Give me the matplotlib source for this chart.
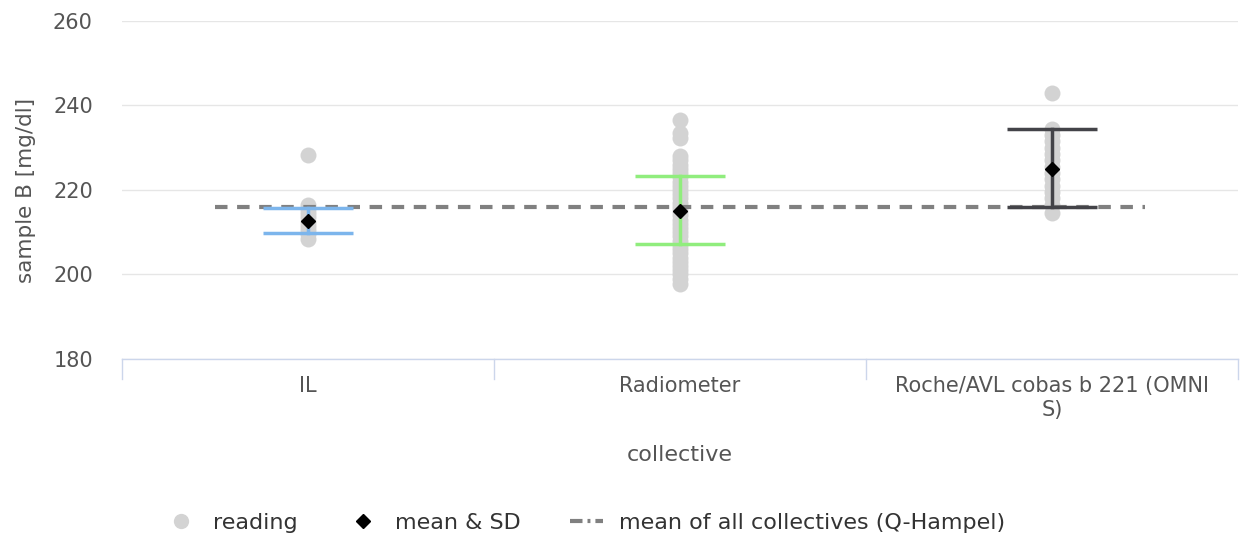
import matplotlib
matplotlib.use("Agg")
import matplotlib.pyplot as plt
from matplotlib.lines import Line2D
import numpy as np

plt.rcParams['font.family'] = ['DejaVu Sans']

categories = ["IL", "Radiometer", "Roche/AVL cobas b 221 (OMNI\nS)"]
il_readings = [228.2, 216.5, 215.5, 214.5, 213.5, 212.5, 211.5, 210.5, 209.5, 208.3]
radiometer_readings = [236.5, 233.5, 232.3, 228.0, 227.0, 226.0, 225.0, 224.0, 223.0, 222.0,
                       221.0, 220.0, 219.0, 218.0, 217.0, 216.0, 215.0, 214.0, 213.0, 212.0,
                       211.0, 210.0, 209.0, 208.0, 207.0, 206.0, 205.0, 204.0, 203.0, 202.0,
                       201.0, 200.0, 199.0, 197.8]
roche_readings = [243.0, 234.5, 233.0, 231.5, 230.0, 228.5, 227.0, 225.5, 224.0, 222.5,
                  221.0, 219.5, 218.0, 216.5, 214.6]
readings = [il_readings, radiometer_readings, roche_readings]
means = [212.7, 215.0, 225.0]
sd_low = [209.8, 207.3, 216.0]
sd_high = [215.8, 223.4, 234.4]
overall_mean = 215.9
bar_colors = ["#7cb5ec", "#90ed7d", "#434348"]

fig = plt.figure(figsize=(12.41, 5.38), dpi=100)
ax = fig.add_axes([122/1241, 1 - 359/538, (1238-122)/1241, (359-21)/538])

x = np.arange(len(categories))
for i, vals in enumerate(readings):
    ax.plot([x[i]] * len(vals), vals, 'o', color="#d3d3d3", markersize=11.5,
            markeredgewidth=0, zorder=2)

ax.plot([-0.25, 2.25], [overall_mean, overall_mean], color="#808080", lw=3,
        dashes=(3, 2.3), zorder=3)

hw = 0.121
for i in range(len(categories)):
    c = bar_colors[i]
    ax.plot([x[i] - hw, x[i] + hw], [sd_high[i]] * 2, color=c, lw=2.5, zorder=4,
            solid_capstyle='butt')
    ax.plot([x[i] - hw, x[i] + hw], [sd_low[i]] * 2, color=c, lw=2.5, zorder=4,
            solid_capstyle='butt')
    ax.plot([x[i], x[i]], [sd_low[i], sd_high[i]], color=c, lw=2.5, zorder=4)
    ax.plot(x[i], means[i], 'D', color="black", markersize=7, zorder=5)

ax.set_xlim(-0.5, 2.5)
ax.set_ylim(180, 260)
ax.set_yticks([180, 200, 220, 240, 260])
ax.set_xticks(x)
ax.set_xticklabels(categories, fontsize=15, color="#555555", va='top', linespacing=1.3)
ax.tick_params(axis='x', length=0, pad=12)
ax.tick_params(axis='y', length=0, labelsize=15, labelcolor="#555555", pad=21)

ax.grid(axis='y', color="#e6e6e6", lw=1)
ax.set_axisbelow(True)
for s in ['top', 'right', 'left']:
    ax.spines[s].set_visible(False)
ax.spines['bottom'].set_color("#ccd6eb")
ax.spines['bottom'].set_linewidth(1)
for b in [-0.5, 0.5, 1.5, 2.5]:
    ax.plot([b, b], [0, -0.06], transform=ax.get_xaxis_transform(), color="#ccd6eb",
            lw=1, clip_on=False)

ax.set_xlabel("collective", fontsize=16, color="#555555", labelpad=18)
ax.set_ylabel("sample B [mg/dl]", fontsize=15.5, color="#555555", labelpad=12)

handles = [
    Line2D([], [], marker='o', color='#d3d3d3', ls='none', markersize=11, markeredgewidth=0),
    Line2D([], [], marker='D', color='black', ls='none', markersize=7),
    Line2D([], [], color='#808080', lw=3, dashes=(3, 1.2, 0.7, 1.2)),
]
labels = ["reading", "mean & SD", "mean of all collectives (Q-Hampel)"]
fig.legend(handles, labels, loc='center', bbox_to_anchor=(0.471, 1 - 523/538), ncol=3,
           frameon=False, fontsize=16, handlelength=1.5, columnspacing=2.2,
           labelcolor="#333333", handletextpad=0.7)

fig.savefig("out.png", dpi=100)
